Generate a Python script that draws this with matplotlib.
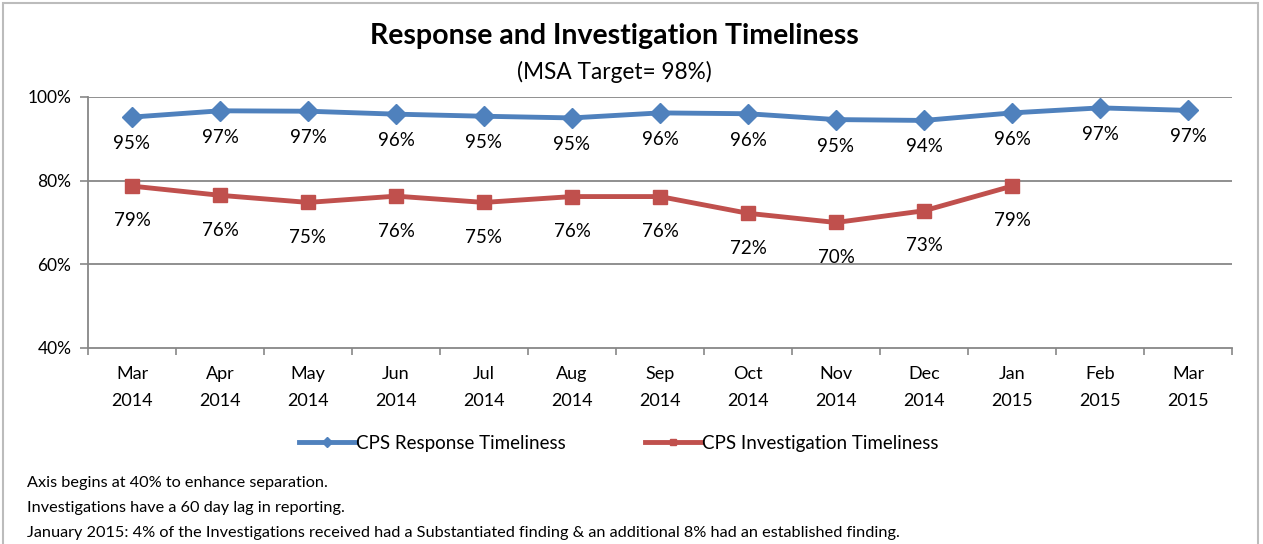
import numpy as np
import matplotlib.pyplot as plt
from matplotlib.patches import Rectangle

months = ["Mar\n2014", "Apr\n2014", "May\n2014", "Jun\n2014", "Jul\n2014", "Aug\n2014",
          "Sep\n2014", "Oct\n2014", "Nov\n2014", "Dec\n2014", "Jan\n2015", "Feb\n2015", "Mar\n2015"]
response = [95.2, 96.7, 96.6, 95.9, 95.4, 95.0, 96.2, 96.0, 94.6, 94.4, 96.2, 97.4, 96.8]
investigation = [78.7, 76.5, 74.8, 76.3, 74.8, 76.2, 76.2, 72.2, 70.0, 72.8, 78.7]
resp_labels = ["95%", "97%", "97%", "96%", "95%", "95%", "96%", "96%", "95%", "94%", "96%", "97%", "97%"]
inv_labels = ["79%", "76%", "75%", "76%", "75%", "76%", "76%", "72%", "70%", "73%", "79%"]
yticks = [40, 60, 80, 100]
notes = ["Axis begins at 40% to enhance separation.",
         "Investigations have a 60 day lag in reporting.",
         "January 2015: 4% of the Investigations received had a Substantiated finding & an additional 8% had an established finding."]

plt.rcParams['font.family'] = ['Lato', 'DejaVu Sans']

blue = "#4F81BD"
red = "#C0504D"
grey = "#878787"

fig = plt.figure(figsize=(12.63, 5.44), dpi=100)
fig.patches.append(Rectangle((3 / 1263, -0.1), 1255 / 1263, 1.094, transform=fig.transFigure,
                             fill=False, edgecolor="#bcbcbc", linewidth=1.5))
ax = fig.add_axes([88 / 1263, 1 - 348 / 544, 1144 / 1263, 251 / 544])

x = np.arange(len(months))
xi = np.arange(len(investigation))
ax.plot(x, response, color=blue, lw=3.5, marker="D", ms=10, label="CPS Response Timeliness", zorder=3)
ax.plot(xi, investigation, color=red, lw=3.5, marker="s", ms=9.5, label="CPS Investigation Timeliness", zorder=3)

for i, (v, t) in enumerate(zip(response, resp_labels)):
    ax.annotate(t, (i, v), xytext=(0, -13), textcoords="offset points", ha="center", va="top", fontsize=13.5)
for i, (v, t) in enumerate(zip(investigation, inv_labels)):
    ax.annotate(t, (i, v), xytext=(0, -19), textcoords="offset points", ha="center", va="top", fontsize=13.5)

ax.set_xlim(-0.5, len(months) - 0.5)
ax.set_ylim(40, 100)
ax.set_yticks(yticks)
ax.set_yticklabels([f"{t}%" for t in yticks], fontsize=12.5)
ax.set_xticks(x)
ax.set_xticklabels(months, fontsize=13, linespacing=1.85)
ax.set_xticks(np.arange(-0.5, len(months), 1), minor=True)
ax.tick_params(axis="x", which="major", length=0, pad=13)
ax.tick_params(axis="x", which="minor", length=5, color=grey, width=1.2)
ax.tick_params(axis="y", length=6, color=grey, width=1.2, pad=6)
for y in yticks[1:]:
    ax.axhline(y, color=grey, lw=1.3, zorder=1)
for s in ["top", "right"]:
    ax.spines[s].set_visible(False)
for s in ["left", "bottom"]:
    ax.spines[s].set_color(grey)
    ax.spines[s].set_linewidth(1.3)

fig.text(614 / 1263, 1 - 36 / 544, "Response and Investigation Timeliness", ha="center", va="center",
         fontsize=20.5, fontweight="bold")
fig.text(614 / 1263, 1 - 72 / 544, "(MSA Target= 98%)", ha="center", va="center", fontsize=16.3)

fig.legend(loc="center", bbox_to_anchor=(619 / 1263, 1 - 443 / 544), ncol=2, frameon=False,
           fontsize=13.5, handlelength=3.0, handletextpad=0.05, columnspacing=4.2, markerscale=0.5)

for i, n in enumerate(notes):
    fig.text(27 / 1263, 1 - (483 + 25 * i) / 544, n, ha="left", va="center", fontsize=11.7)

fig.savefig("out.png", dpi=100)
